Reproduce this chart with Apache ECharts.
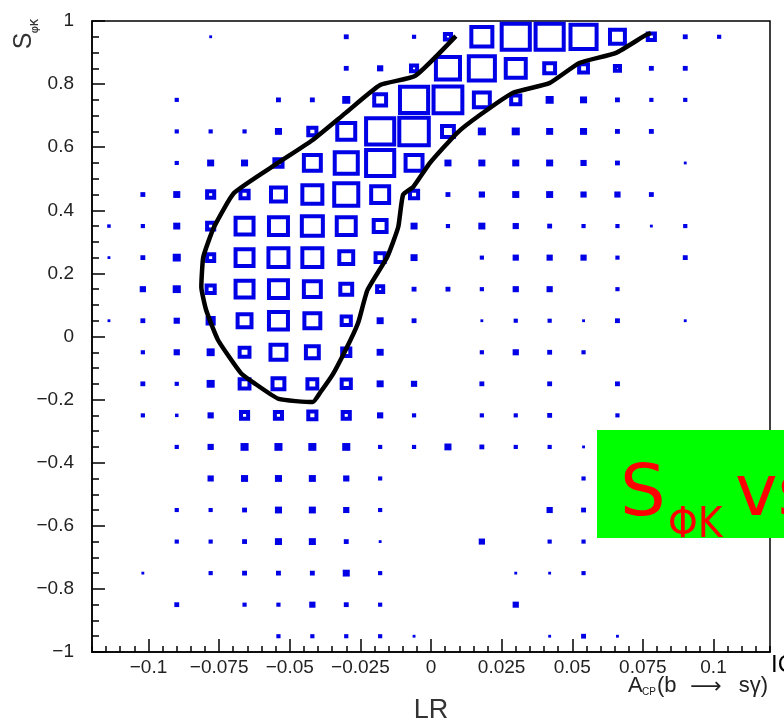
<!DOCTYPE html>
<html>
<head>
<meta charset="utf-8">
<script src="https://cdn.jsdelivr.net/npm/echarts@6/dist/echarts.min.js"></script>
<style>html,body{margin:0;padding:0;background:#fff}#c{width:784px;height:722px}</style>
</head>
<body>
<div id="c"></div>
<script>
// Bin centres (20 x 20 histogram, box representation)
const xCenters = [-0.114,-0.102,-0.090,-0.078,-0.066,-0.054,-0.042,-0.030,-0.018,-0.006,0.006,0.018,0.030,0.042,0.054,0.066,0.078,0.090,0.102,0.114];
const yCenters = [0.95,0.85,0.75,0.65,0.55,0.45,0.35,0.25,0.15,0.05,-0.05,-0.15,-0.25,-0.35,-0.45,-0.55,-0.65,-0.75,-0.85,-0.95];
const binWidth = 0.012;
const binHeight = 0.1;
const maxContent = 100;

// Cell contents, one array per S row (columns follow xCenters)
const row_p095 = [0,0,0,2,0,0,0,5,0,4,18,62,83,83,77,44,21,5,4,0];
const row_p085 = [0,0,0,0,0,0,0,5,7,18,71,77,59,32,26,15,5,5,0,0];
const row_p075 = [0,0,4,0,0,5,5,12,35,83,85,47,27,12,9,5,4,4,0,0];
const row_p065 = [0,0,4,4,4,9,24,53,83,87,35,12,12,9,9,5,5,0,0,0];
const row_p055 = [0,0,4,9,9,24,50,68,83,50,9,9,9,9,7,5,0,2,0,0];
const row_p045 = [0,5,9,21,24,44,59,71,53,24,5,7,9,9,7,7,5,0,0,0];
const row_p035 = [3,4,9,21,53,56,62,56,38,9,4,9,7,5,4,4,2,4,0,0];
const row_p025 = [2,5,12,21,53,59,59,41,27,9,0,4,7,7,7,4,0,5,0,0];
const row_p015 = [0,7,12,24,53,56,50,35,18,5,5,4,7,7,0,4,0,0,0,0];
const row_p005 = [2,5,7,18,41,56,47,27,9,5,0,2,4,4,2,5,0,2,0,0];
const row_m005 = [0,4,7,12,29,47,38,24,9,0,0,4,7,5,4,0,0,0,0,0];
const row_m015 = [0,5,4,12,29,35,29,27,9,7,0,5,0,5,0,5,0,0,0,0];
const row_m025 = [0,4,3,7,21,21,24,21,7,4,0,4,4,5,0,4,0,0,0,0];
const row_m035 = [0,0,4,7,12,12,12,12,4,4,9,5,4,4,2,0,0,0,0,0];
const row_m045 = [0,0,0,7,9,9,9,7,4,0,0,0,0,0,4,0,0,0,0,0];
const row_m055 = [0,0,4,4,5,9,9,7,4,0,0,0,0,7,5,0,0,0,0,0];
const row_m065 = [0,0,4,4,5,9,9,5,2,0,0,7,0,4,4,0,0,0,0,0];
const row_m075 = [0,2,0,4,5,5,5,9,4,0,0,0,2,2,4,0,0,0,0,0];
const row_m085 = [0,0,5,0,4,4,7,5,4,0,0,0,7,0,0,0,0,0,0,0];
const row_m095 = [0,0,0,0,0,4,4,4,4,2,0,0,0,2,5,2,0,0,0,0];

// Contour (traced)
const contourX = [0.0088,-0.0056,-0.018,-0.0303,-0.0419,-0.0542,-0.0697,-0.0768,-0.0806,-0.0813,-0.0796,-0.0754,-0.0673,-0.0627,-0.0539,-0.0419,-0.0391,-0.0345,-0.0285,-0.0257,-0.0225,-0.0155,-0.0116,-0.0099,-0.0063,-0.0004,0.0092,0.0173,0.0289,0.0419,0.0525,0.0655,0.0761,0.0778];
const contourY = [0.952,0.826,0.797,0.708,0.623,0.550,0.455,0.347,0.252,0.157,0.084,-0.011,-0.116,-0.147,-0.198,-0.208,-0.176,-0.116,-0.011,0.046,0.147,0.252,0.347,0.449,0.474,0.550,0.645,0.702,0.772,0.803,0.867,0.899,0.956,0.962];

// Ticks
const xMajorTicks = [-0.1,-0.075,-0.05,-0.025,0,0.025,0.05,0.075,0.1];
const yMajorTicks = [-1,-0.8,-0.6,-0.4,-0.2,0,0.2,0.4,0.6,0.8,1];

const rows = [row_p095,row_p085,row_p075,row_p065,row_p055,row_p045,row_p035,row_p025,row_p015,row_p005,
              row_m005,row_m015,row_m025,row_m035,row_m045,row_m055,row_m065,row_m075,row_m085,row_m095];
const boxData = [];
rows.forEach((r, i) => r.forEach((v, j) => { if (v > 0) boxData.push([xCenters[j], yCenters[i], v]); }));
const contourData = contourX.map((x, i) => [x, contourY[i]]);

function fmt(v) {
  const r = Math.round(v * 1000) / 1000;
  return (r < 0 ? '\u2212' : '') + String(Math.abs(r));
}
const FONT = '"Liberation Sans", "DejaVu Sans", Arial, sans-serif';
const tickStyle = { color: '#000', width: 1.5 };
const labelStyle = { fontSize: 19, color: '#222', fontFamily: FONT };

const chart = echarts.init(document.getElementById('c'), null, { renderer: 'canvas' });
chart.setOption({
  animation: false,
  backgroundColor: '#fff',
  grid: { left: 92, right: 14, top: 21, bottom: 70, show: true, borderColor: '#000', borderWidth: 1.5, backgroundColor: 'transparent' },
  xAxis: [
    { type: 'value', min: -0.12, max: 0.12, interval: 0.005,
      axisLine: { onZero: false, lineStyle: tickStyle }, splitLine: { show: false },
      axisTick: { inside: true, length: 6, lineStyle: tickStyle },
      axisLabel: Object.assign({ margin: 6, interval: 0, showMinLabel: true, showMaxLabel: true,
        formatter: v => (Math.abs(v * 40 - Math.round(v * 40)) < 1e-6 ? fmt(v) : '') }, labelStyle) },
    { type: 'value', min: -0.12, max: 0.12, position: 'bottom',
      axisLine: { show: false, onZero: false }, splitLine: { show: false }, axisLabel: { show: false },
      axisTick: { inside: true, length: 13, lineStyle: tickStyle, customValues: xMajorTicks } }
  ],
  yAxis: [
    { type: 'value', min: -1, max: 1, interval: 0.05, position: 'left',
      axisLine: { show: true, onZero: false, lineStyle: tickStyle }, splitLine: { show: false },
      axisTick: { show: true, inside: true, length: 7, lineStyle: tickStyle },
      axisLabel: Object.assign({ margin: 18, interval: 0,
        formatter: v => (Math.abs(v * 5 - Math.round(v * 5)) < 1e-6 ? fmt(v) : '') }, labelStyle) },
    { type: 'value', min: -1, max: 1, position: 'left', offset: 0,
      axisLine: { show: false, onZero: false }, splitLine: { show: false }, axisLabel: { show: false },
      axisTick: { show: true, inside: true, length: 13, lineStyle: tickStyle, customValues: yMajorTicks } }
  ],
  series: [
    { type: 'custom', xAxisIndex: 0, yAxisIndex: 0, z: 2, clip: true,
      data: boxData, encode: { x: 0, y: 1 },
      renderItem: function (params, api) {
        const c = api.coord([api.value(0), api.value(1)]);
        const s = api.size([binWidth, binHeight]);
        const f = api.value(2) / maxContent;
        const w = s[0] * f, h = s[1] * f;
        const lw = Math.min(4, 1.5 + w);
        return { type: 'rect', shape: { x: c[0] - w / 2, y: c[1] - h / 2, width: w, height: h },
                 style: { fill: 'none', stroke: '#0000e6', lineWidth: lw } };
      } },
    { type: 'line', xAxisIndex: 0, yAxisIndex: 0, z: 3, data: contourData, showSymbol: false, symbol: 'none',
      smooth: 0.15, lineStyle: { color: '#000', width: 4.5 } }
  ],
  graphic: [
    { type: 'text', x: 24, y: 41, rotation: Math.PI / 2, z: 50,
      style: { text: 'S', fontSize: 25, fontFamily: FONT, fill: '#333', align: 'center', verticalAlign: 'middle' } },
    { type: 'text', x: 35, y: 26, rotation: Math.PI / 2, z: 50,
      style: { text: '\u03C6K', fontSize: 10, fontWeight: 'bold', fontFamily: FONT, fill: '#333', align: 'center', verticalAlign: 'middle' } },
    { type: 'text', x: 628, y: 686, z: 50,
      style: { text: 'A', fontSize: 22, fontFamily: FONT, fill: '#222', align: 'left', verticalAlign: 'middle' } },
    { type: 'text', x: 642, y: 692, z: 50,
      style: { text: 'CP', fontSize: 10, fontFamily: FONT, fill: '#222', align: 'left', verticalAlign: 'middle' } },
    { type: 'text', x: 657, y: 686, z: 50,
      style: { text: '(b', fontSize: 22, fontFamily: FONT, fill: '#222', align: 'left', verticalAlign: 'middle' } },
    { type: 'text', x: 706, y: 687, z: 50,
      style: { text: '\u27F6', fontSize: 22, fontFamily: FONT, fill: '#222', align: 'center', verticalAlign: 'middle' } },
    { type: 'text', x: 768, y: 686, z: 50,
      style: { text: 's\u03B3)', fontSize: 22, fontFamily: FONT, fill: '#222', align: 'right', verticalAlign: 'middle' } },
    { type: 'text', x: 431, y: 711, z: 50,
      style: { text: 'LR', fontSize: 27, fontFamily: FONT, fill: '#333', align: 'center', verticalAlign: 'middle' } },
    { type: 'text', x: 771, y: 665, z: 50,
      style: { text: 'IC', fontSize: 24, fontFamily: FONT, fill: '#000', align: 'left', verticalAlign: 'middle' } },
    { type: 'rect', z: 100, shape: { x: 597, y: 430, width: 200, height: 108 }, style: { fill: '#00ff00' } },
    { type: 'text', x: 620, y: 496, z: 101,
      style: { text: 'S', fontSize: 72, fontFamily: '"DejaVu Sans", sans-serif', fill: '#ff0000', align: 'left', verticalAlign: 'middle' } },
    { type: 'text', x: 668, y: 526, z: 101,
      style: { text: '\u03A6K', fontSize: 42, fontFamily: '"Liberation Sans Narrow", "DejaVu Sans Condensed", "DejaVu Sans", sans-serif', fill: '#ff0000', align: 'left', verticalAlign: 'middle' } },
    { type: 'text', x: 735, y: 496, z: 101,
      style: { text: 'vs', fontSize: 72, fontFamily: '"DejaVu Sans", sans-serif', fill: '#ff0000', align: 'left', verticalAlign: 'middle' } }
  ]
});
</script>
</body>
</html>
